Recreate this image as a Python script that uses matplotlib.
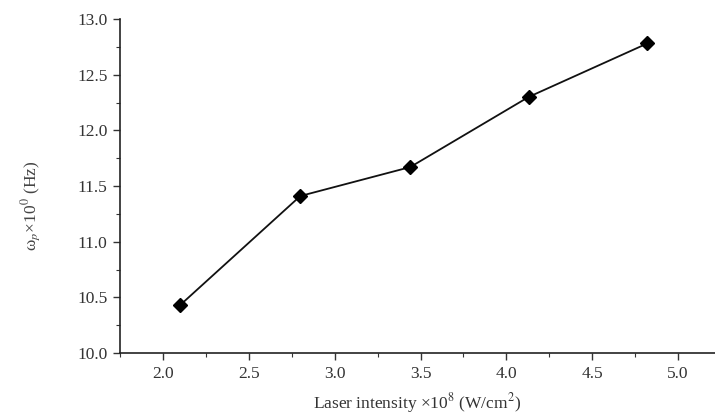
import matplotlib
matplotlib.use("Agg")
import matplotlib.pyplot as plt
from matplotlib.ticker import MultipleLocator

# plasma frequency vs laser intensity
intensity = [2.10, 2.80, 3.44, 4.13, 4.82]
omega_p = [10.43, 11.41, 11.67, 12.30, 12.78]

plt.rcParams['font.family'] = ['Liberation Serif', 'DejaVu Serif']
plt.rcParams['mathtext.fontset'] = 'stix'

fig = plt.figure(figsize=(7.15, 4.16), dpi=100)
ax = fig.add_axes([120 / 715, 1 - 353 / 416, 1 - 120 / 715, (353 - 19) / 416])

ax.plot(intensity, omega_p, color='#111111', lw=1.3, marker='D', ms=7.5,
        mfc='black', mec='black')

ax.set_xlim(1.75, 5.215)
ax.set_ylim(10.0, 13.0)
ax.xaxis.set_major_locator(MultipleLocator(0.5))
ax.xaxis.set_minor_locator(MultipleLocator(0.25))
ax.yaxis.set_major_locator(MultipleLocator(0.5))
ax.yaxis.set_minor_locator(MultipleLocator(0.25))
ax.xaxis.set_major_formatter(lambda v, p: f"{v:.1f}")
ax.yaxis.set_major_formatter(lambda v, p: f"{v:.1f}")

for s in ('top', 'right'):
    ax.spines[s].set_visible(False)
for s in ('left', 'bottom'):
    ax.spines[s].set_linewidth(1.2)
    ax.spines[s].set_color('#222222')

ax.tick_params(which='major', direction='out', length=5, width=1,
               labelsize=12.5, colors='#333333', pad=4)
ax.tick_params(which='minor', direction='out', length=3, width=0.8,
               colors='#333333')

ax.set_xlabel("Laser intensity \u00d710$^{8}$ (W/cm$^{2}$)",
              fontsize=12.5, color='#333333', labelpad=7)
ax.set_ylabel("\u03c9$_{p}$\u00d710$^{0}$ (Hz)", fontsize=12.5,
              color='#444444')
ax.yaxis.set_label_coords(-0.13, 0.44)

fig.savefig("out.png", dpi=100)
